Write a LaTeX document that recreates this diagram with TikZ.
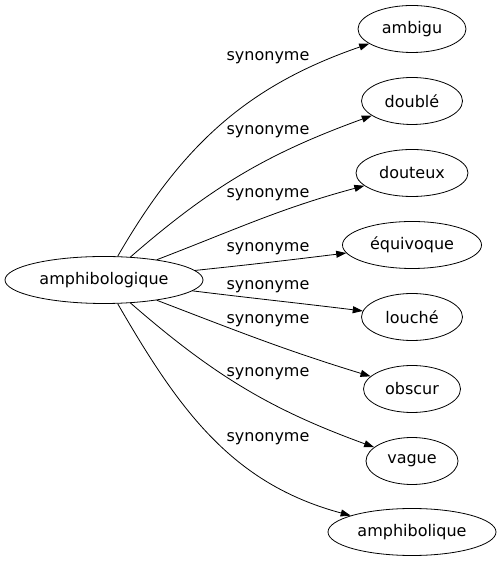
\documentclass[tikz,border=0pt]{standalone}
\usepackage{fontspec}
\setmainfont{DejaVu Sans}
\usetikzlibrary{shapes.geometric,arrows.meta}

\begin{document}
\begin{tikzpicture}[x=1bp,y=1bp]
  \useasboundingbox (0,0) rectangle (503,563);
  \begin{scope}[
    every node/.style={
      draw,
      ellipse,
      line width=0.8bp,
      minimum height=47bp,
      inner xsep=2bp,
      font=\fontsize{16bp}{18bp}\selectfont,
    },
    ]
    \node[minimum width=198bp](src) at (104,283) {amphibologique};
    \foreach \i/\mot/\w/\y in {1/ambigu/108/534,2/doublé/101/462,
      3/douteux/112/390,4/équivoque/139/318,5/louché/101/246,
      6/obscur/97/174,7/vague/92/102,8/amphibolique/168/31}{
      \node[minimum width=\w bp](b\i) at (412,\y) {\mot};
    };
  \end{scope}
  \begin{scope}[every path/.style={draw,line width=0.8bp,>={Triangle[length=10bp,width=7bp]}}]
    \foreach \i/\o/\n in {1/60/199,2/41/200,3/21/195,4/6/187,
      5/-7/173,6/-21/163,7/-41/160,8/-60/165}{
      \path[->] (src) to[out=\o,in=\n] (b\i);
    }
  \end{scope}
  \begin{scope}[every node/.style={font=\fontsize{16bp}{18bp}\selectfont,inner sep=0pt}]
    \foreach \i/\y in {1/505,2/431,3/368,4/314,5/276,6/242,7/189,8/124}{
      \node(lbl\i) at (268,\y) {synonyme};
    }
  \end{scope}
\end{tikzpicture}
\end{document}
